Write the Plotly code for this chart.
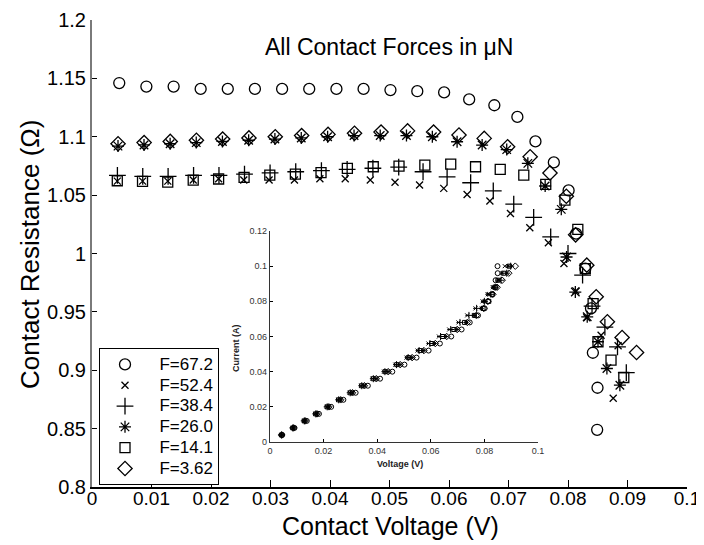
import plotly.graph_objects as go

# ---------------- data ----------------
# current levels (A) seen in the inset, shared by all series
current = [0.004, 0.008, 0.012, 0.016, 0.020, 0.024, 0.028, 0.032, 0.036, 0.040,
           0.044, 0.048, 0.052, 0.056, 0.060, 0.064, 0.068, 0.072, 0.076, 0.080,
           0.084, 0.088, 0.092, 0.096, 0.100]

series_names = ["F=67.2", "F=52.4", "F=38.4", "F=26.0", "F=14.1", "F=3.62"]

v_672 = [0.00458, 0.00914, 0.01372, 0.01826, 0.02282, 0.02738, 0.03195, 0.03651, 0.04108, 0.04564,
         0.05016, 0.05467, 0.05918, 0.06339, 0.06762, 0.07149, 0.07453, 0.07762, 0.08010, 0.08136,
         0.08291, 0.08386, 0.08418, 0.08496, 0.08490]
r_672 = [1.146, 1.143, 1.143, 1.141, 1.141, 1.141, 1.141, 1.141, 1.141, 1.141,
         1.140, 1.139, 1.138, 1.132, 1.127, 1.117, 1.096, 1.078, 1.054, 1.017,
         0.987, 0.953, 0.915, 0.885, 0.849]

v_524 = [0.00425, 0.00850, 0.01274, 0.01701, 0.02128, 0.02551, 0.02976, 0.03402, 0.03830, 0.04256,
         0.04677, 0.05093, 0.05505, 0.05912, 0.06304, 0.06687, 0.07033, 0.07358, 0.07670, 0.07932,
         0.08131, 0.08316, 0.08556, 0.08842, 0.08760]
r_524 = [1.062, 1.062, 1.062, 1.063, 1.064, 1.063, 1.063, 1.063, 1.064, 1.064,
         1.063, 1.061, 1.0586, 1.0558, 1.0506, 1.0449, 1.0343, 1.022, 1.0092, 0.9915,
         0.968, 0.945, 0.930, 0.921, 0.876]

v_384 = [0.00427, 0.00853, 0.01279, 0.01707, 0.02134, 0.02563, 0.02993, 0.03424, 0.03856, 0.04288,
         0.04721, 0.05155, 0.05564, 0.05968, 0.06364, 0.06744, 0.07088, 0.07423, 0.07709, 0.08000,
         0.08245, 0.08404, 0.08620, 0.08832, 0.08980]
r_384 = [1.067, 1.066, 1.066, 1.067, 1.067, 1.068, 1.069, 1.070, 1.071, 1.072,
         1.073, 1.074, 1.070, 1.0657, 1.0606, 1.0537, 1.0423, 1.031, 1.0143, 1.000,
         0.9815, 0.955, 0.937, 0.920, 0.898]

v_260 = [0.00437, 0.00874, 0.01313, 0.01752, 0.02192, 0.02633, 0.03074, 0.03517, 0.03960, 0.04404,
         0.04844, 0.05285, 0.05720, 0.06136, 0.06557, 0.06970, 0.07325, 0.07616, 0.07887, 0.07976,
         0.08123, 0.08323, 0.08504, 0.08654, 0.08872]
r_260 = [1.092, 1.093, 1.094, 1.095, 1.096, 1.097, 1.098, 1.099, 1.100, 1.101,
         1.101, 1.101, 1.100, 1.0957, 1.0929, 1.089, 1.0772, 1.0578, 1.0378, 0.997,
         0.967, 0.9458, 0.9244, 0.9015, 0.8872]

v_141 = [0.00425, 0.00849, 0.01273, 0.01701, 0.02128, 0.02556, 0.02988, 0.03418, 0.03849, 0.04292,
         0.04727, 0.05160, 0.05594, 0.06029, 0.06446, 0.06861, 0.07257, 0.07626, 0.07948, 0.08165,
         0.08291, 0.08422, 0.08504, 0.08723, 0.08938]
r_141 = [1.0623, 1.0618, 1.0612, 1.0629, 1.0638, 1.0652, 1.0672, 1.068, 1.0692, 1.0729,
         1.0743, 1.0749, 1.0757, 1.0766, 1.0743, 1.072, 1.0672, 1.0592, 1.0458, 1.0206,
         0.987, 0.957, 0.9244, 0.9086, 0.8938]

v_362 = [0.00438, 0.00876, 0.01315, 0.01755, 0.02196, 0.02638, 0.03080, 0.03523, 0.03967, 0.04412,
         0.04858, 0.05304, 0.05741, 0.06168, 0.06592, 0.06985, 0.07364, 0.07697, 0.07972, 0.08128,
         0.08316, 0.08474, 0.08662, 0.08909, 0.09152]
r_362 = [1.094, 1.095, 1.096, 1.097, 1.098, 1.099, 1.100, 1.101, 1.102, 1.103,
         1.104, 1.105, 1.104, 1.1015, 1.0986, 1.0914, 1.0829, 1.069, 1.049, 1.016,
         0.990, 0.963, 0.9415, 0.928, 0.9152]

voltages = [v_672, v_524, v_384, v_260, v_141, v_362]
resistances = [r_672, r_524, r_384, r_260, r_141, r_362]

x_tickvals = [0, 0.01, 0.02, 0.03, 0.04, 0.05, 0.06, 0.07, 0.08, 0.09, 0.1]
x_ticktext = ["0", "0.01", "0.02", "0.03", "0.04", "0.05", "0.06", "0.07", "0.08", "0.09", "0.1"]
y_tickvals = [0.8, 0.85, 0.9, 0.95, 1.0, 1.05, 1.1, 1.15, 1.2]
y_ticktext = ["0.8", "0.85", "0.9", "0.95", "1", "1.05", "1.1", "1.15", "1.2"]
ix_tickvals = [0, 0.02, 0.04, 0.06, 0.08, 0.1]
ix_ticktext = ["0", "0.02", "0.04", "0.06", "0.08", "0.1"]
iy_tickvals = [0, 0.02, 0.04, 0.06, 0.08, 0.1, 0.12]
iy_ticktext = ["0", "0.02", "0.04", "0.06", "0.08", "0.1", "0.12"]

# ---------------- styling ----------------
symbols = ["circle-open", "x-thin-open", "cross-thin-open", "asterisk-open", "square-open", "diamond-open"]
sizes = [11, 7, 12, 10, 10, 11]
inset_sizes = [5, 4, 5, 4, 4, 5]
FONT = "Liberation Sans, Arial, Helvetica, sans-serif"

OFF = 8                        # page body margin of the browser
W, H = 704 - OFF, 545 - OFF
L, R, T, B = 92 - OFF, 687 - OFF, 20 - OFF, 487 - OFF   # plot-area edges (figure px)

def px_x(p):                   # p: pixel x in the reference picture
    return (p - OFF - L) / (R - L)
def px_y(p):                   # p: pixel y in the reference picture
    return (B - (p - OFF)) / (B - T)

fig = go.Figure()

for name, v, r, sym, sz in zip(series_names, voltages, resistances, symbols, sizes):
    fig.add_trace(go.Scatter(
        x=v, y=r, mode="markers",
        name='<span style="font-size:17px">\u00a0\u00a0' + name + '</span>',
        marker=dict(symbol=sym, size=sz, color="black",
                    line=dict(color="black", width=1.3)),
        xaxis="x", yaxis="y"))

for name, v, sym, sz in zip(series_names, voltages, symbols, inset_sizes):
    fig.add_trace(go.Scatter(
        x=v, y=current, mode="markers", name=name, showlegend=False,
        marker=dict(symbol=sym, size=sz, color="black",
                    line=dict(color="black", width=1)),
        xaxis="x2", yaxis="y2"))

axis_common = dict(showgrid=False, zeroline=False, showline=True, ticks="inside",
                   tickcolor="black", automargin=False)

def ann(text, x, y, size, angle=0, color="black"):
    return dict(text=text, xref="paper", yref="paper", x=px_x(x), y=px_y(y),
                xanchor="center", yanchor="middle", showarrow=False, textangle=angle,
                font=dict(size=size, family=FONT, color=color))

fig.update_layout(
    width=W, height=H,
    margin=dict(l=L, r=W - R, t=T, b=H - B, pad=0, autoexpand=False),
    paper_bgcolor="white", plot_bgcolor="rgba(0,0,0,0)",
    font=dict(family=FONT, color="black"),
    xaxis=dict(domain=[0, 1], range=[0, 0.1],
               tickvals=x_tickvals, ticktext=x_ticktext, ticklen=7, tickwidth=1,
               linecolor="black", linewidth=1.5, ticklabelstandoff=-7,
               tickfont=dict(size=19, family=FONT), anchor="y", **axis_common),
    yaxis=dict(domain=[0, 1], range=[0.8, 1.2],
               tickvals=y_tickvals, ticktext=y_ticktext, ticklen=5, tickwidth=1,
               linecolor="#7a7a7a", linewidth=2,
               tickfont=dict(size=20, family=FONT), anchor="x", **axis_common),
    xaxis2=dict(domain=[px_x(270), px_x(538)], range=[0, 0.1],
                tickvals=ix_tickvals, ticktext=ix_ticktext, ticklen=3, tickwidth=1,
                linecolor="#333", linewidth=1.2,
                tickfont=dict(size=9, family=FONT, color="#333"), anchor="y2", **axis_common),
    yaxis2=dict(domain=[px_y(442), px_y(231)], range=[0, 0.12],
                tickvals=iy_tickvals, ticktext=iy_ticktext, ticklen=3, tickwidth=1,
                linecolor="#333", linewidth=1.2,
                tickfont=dict(size=9, family=FONT, color="#333"), anchor="x2", **axis_common),
    showlegend=True,
    legend=dict(x=px_x(99), y=px_y(348), xanchor="left", yanchor="top",
                bgcolor="white", bordercolor="black", borderwidth=1,
                font=dict(size=13.7, family=FONT, color="black"),
                itemsizing="trace", itemwidth=40, tracegroupgap=0),
    annotations=[
        ann("All Contact Forces in \u03bcN", 389, 47, 23),
        ann("Contact Voltage (V)", 390, 526, 25),
        ann("Contact Resistance (\u03a9)", 30, 255, 26, angle=-90),
        ann("<b>Voltage (V)</b>", 400, 464, 9, color="#222"),
        ann("<b>Current (A)</b>", 236, 348, 9, angle=-90, color="#222"),
    ],
)

fig.write_html("out.html")
